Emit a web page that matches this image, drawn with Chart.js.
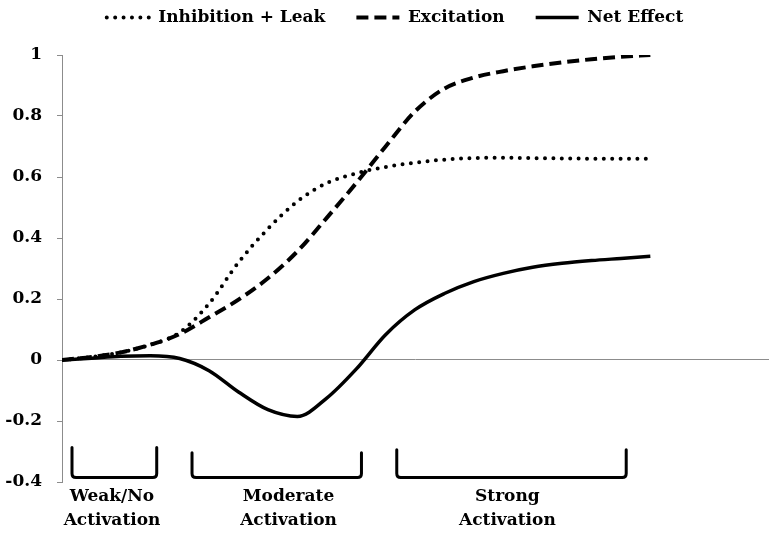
<!DOCTYPE html>
<html>
<head>
<meta charset="utf-8">
<script src="https://cdn.jsdelivr.net/npm/chart.js@4/dist/chart.umd.min.js"></script>
<style>
  html, body { margin: 0; padding: 0; background: #fff; }
  #wrap { width: 779px; height: 533px; position: relative; }
</style>
</head>
<body>
<div id="wrap"><canvas id="grafico"></canvas></div>
<script>
// activation steps (x) and the three curves
const steps = [0, 0.5, 1, 1.5, 2, 2.5, 3, 3.5, 4, 4.5, 5, 5.5, 6, 6.5, 7, 7.5, 8, 8.5, 9, 9.5, 10];
const inhibicao = [0, 0.01, 0.025, 0.05, 0.09, 0.185, 0.32, 0.43, 0.52, 0.58, 0.612, 0.633, 0.647, 0.657, 0.662, 0.663, 0.662, 0.661, 0.66, 0.66, 0.66];
const excitacao = [0, 0.01, 0.025, 0.05, 0.085, 0.14, 0.198, 0.268, 0.356, 0.466, 0.58, 0.70, 0.815, 0.89, 0.926, 0.947, 0.963, 0.976, 0.986, 0.994, 1.0];
const efeito = [0, 0.006, 0.012, 0.014, 0.005, -0.035, -0.105, -0.163, -0.185, -0.125, -0.03, 0.083, 0.165, 0.218, 0.257, 0.284, 0.304, 0.317, 0.326, 0.333, 0.34];

const nomes = ["Inhibition + Leak", "Excitation", "Net Effect"];
const yTicks = ["-0.4", "-0.2", "0", "0.2", "0.4", "0.6", "0.8", "1"];

// bracket groups under the curves
const faixas = ["Weak/No|Activation", "Moderate|Activation", "Strong|Activation"];
const faixaIni = [0.17, 2.21, 5.69];
const faixaFim = [1.61, 5.09, 9.59];
const faixaTopo = [-0.287, -0.304, -0.294];
const faixaCentro = [0.85, 3.85, 7.57];

const fonte = "'DejaVu Serif', 'Liberation Serif', serif";
const cinza = "#8c8c8c";

function pontos(vals) {
    return vals.map((v, i) => ({ x: steps[i], y: v }));
}

const chaves = {
    id: "chaves",
    beforeLayout(chart) {
        // legend needs more room so the plot starts lower
        const lg = chart.legend;
        if (lg && !lg._ajustado) {
            const fit = lg.fit;
            lg.fit = function () {
                fit.call(this);
                this.height = 77;
            };
            lg._ajustado = true;
        }
    },
    afterLayout(chart) {
        // legend sits a little right of centre in the original
        const lg = chart.legend;
        if (lg) {
            lg.left += 11;
            lg.right += 11;
        }
    },
    afterDraw(chart) {
        const ctx = chart.ctx;
        const xs = chart.scales.x;
        const ys = chart.scales.y;
        const baixo = ys.getPixelForValue(-0.385);
        ctx.save();
        ctx.strokeStyle = "#000";
        ctx.lineWidth = 3;
        ctx.lineCap = "round";
        ctx.lineJoin = "round";
        faixas.forEach((txt, i) => {
            const l = xs.getPixelForValue(faixaIni[i]);
            const r = xs.getPixelForValue(faixaFim[i]);
            const t = ys.getPixelForValue(faixaTopo[i]);
            const k = 4;
            ctx.beginPath();
            ctx.moveTo(l, t);
            ctx.lineTo(l, baixo - k);
            ctx.quadraticCurveTo(l, baixo, l + k, baixo);
            ctx.lineTo(r - k, baixo);
            ctx.quadraticCurveTo(r, baixo, r, baixo - k);
            ctx.lineTo(r, t);
            ctx.stroke();

            const cx = xs.getPixelForValue(faixaCentro[i]);
            ctx.fillStyle = "#000";
            ctx.font = "bold 17px " + fonte;
            ctx.textAlign = "center";
            ctx.textBaseline = "middle";
            const linhas = txt.split("|");
            ctx.fillText(linhas[0], cx, chart.chartArea.bottom + 15);
            ctx.fillText(linhas[1], cx, chart.chartArea.bottom + 39);
        });
        ctx.restore();
    }
};

new Chart(document.getElementById("grafico"), {
    type: "line",
    data: {
        datasets: [
            {
                label: nomes[0],
                data: pontos(inhibicao),
                borderColor: "#000",
                borderWidth: 4,
                borderDash: [0, 8.4],
                borderCapStyle: "round",
                pointRadius: 0,
                cubicInterpolationMode: "monotone",
                fill: false
            },
            {
                label: nomes[1],
                data: pontos(excitacao),
                borderColor: "#000",
                borderWidth: 4,
                borderDash: [12, 6],
                pointRadius: 0,
                cubicInterpolationMode: "monotone",
                fill: false
            },
            {
                label: nomes[2],
                data: pontos(efeito),
                borderColor: "#000",
                borderWidth: 3.5,
                pointRadius: 0,
                cubicInterpolationMode: "monotone",
                fill: false
            }
        ]
    },
    options: {
        responsive: true,
        maintainAspectRatio: false,
        animation: false,
        layout: {
            padding: { left: 0, right: 11, top: -22, bottom: 51 }
        },
        plugins: {
            tooltip: { enabled: false },
            legend: {
                position: "top",
                labels: {
                    color: "#000",
                    font: { family: fonte, size: 17, weight: "bold" },
                    usePointStyle: true,
                    pointStyle: "line",
                    pointStyleWidth: 43,
                    padding: 31,
                    generateLabels(chart) {
                        const itens = Chart.defaults.plugins.legend.labels.generateLabels(chart);
                        itens.forEach(it => {
                            const ds = chart.data.datasets[it.datasetIndex];
                            it.lineDash = ds.borderDash || [];
                            it.lineWidth = ds.borderWidth;
                            it.lineCap = ds.borderCapStyle || "butt";
                            it.strokeStyle = "#000";
                            it.fillStyle = "#000";
                        });
                        return itens;
                    }
                }
            }
        },
        scales: {
            x: {
                type: "linear",
                axis: "x",
                position: { y: 0 },
                min: 0,
                max: 12,
                ticks: { display: false },
                grid: { drawOnChartArea: false, drawTicks: false },
                border: { color: cinza, width: 1 }
            },
            y: {
                min: -0.4,
                max: 1,
                afterFit(s) { s.width = 62; },
                ticks: {
                    stepSize: 0.2,
                    padding: 15,
                    color: "#000",
                    font: { family: fonte, size: 17, weight: "bold" },
                    callback: (v, i) => yTicks[i]
                },
                grid: { drawOnChartArea: false, drawTicks: true, tickLength: 5, tickColor: cinza },
                border: { color: cinza, width: 1 }
            }
        }
    },
    plugins: [chaves]
});
</script>
</body>
</html>
